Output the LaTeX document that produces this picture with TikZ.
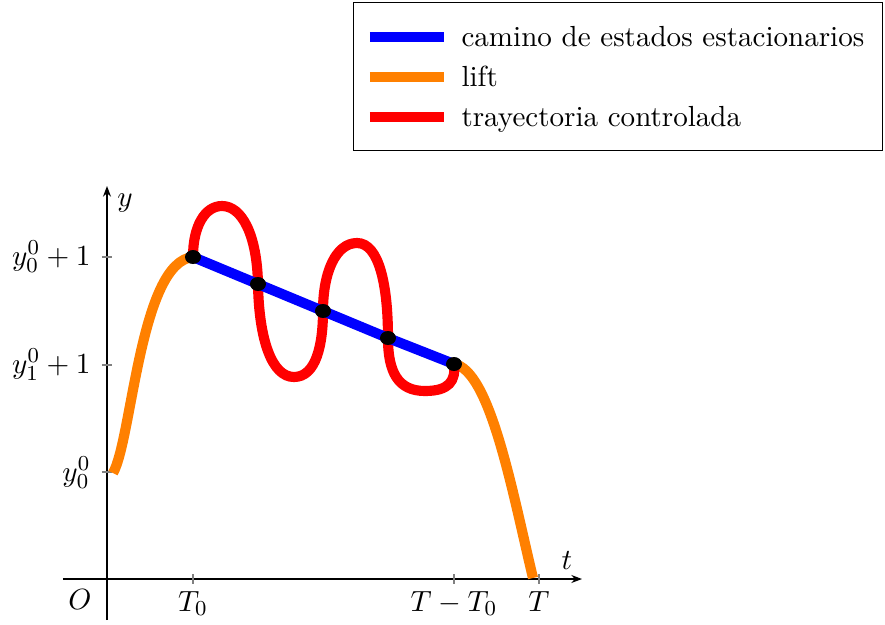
\documentclass[tikz,border=0pt]{standalone}
\usetikzlibrary{arrows.meta}
\begin{document}
\begin{tikzpicture}[x=0.375pt,y=-0.375pt,
  axisline/.style={black,line width=0.45pt,-{Stealth[length=4pt,width=3pt]}},
  tickmark/.style={gray,line width=0.4pt},
  bluepath/.style={blue,line width=3.8pt},
  orangepath/.style={orange,line width=3.8pt},
  redpath/.style={red,line width=3.8pt},
  dotmark/.style={fill=black,draw=none},
  lbl/.style={inner sep=0pt,font=\fontsize{10.9pt}{13pt}\selectfont}]
\useasboundingbox (0,0) rectangle (885,624);
% axes
\coordinate (xs) at (63,579); \coordinate (xe) at (582,579);
\coordinate (ys) at (107,620); \coordinate (ye) at (107,186);
\draw[axisline] (xs) -- (xe);
\draw[axisline] (ys) -- (ye);
% ticks
\foreach \n/\yy in {a/257,b/365,c/472}{
  \coordinate (tl\n) at (102,\yy); \coordinate (tr\n) at (112,\yy);
  \draw[tickmark] (tl\n) -- (tr\n);}
\foreach \n/\xx in {a/193,b/454,c/539}{
  \coordinate (tt\n) at (\xx,574); \coordinate (tb\n) at (\xx,584);
  \draw[tickmark] (tt\n) -- (tb\n);}
% labels
\node[lbl,anchor=east] (la) at (91,257) {$y^0_0+1$};
\node[lbl,anchor=east] (lb) at (91,365) {$y^0_1+1$};
\node[lbl,anchor=east] (lc) at (91,473) {$y^0_0$};
\node[lbl,anchor=north] (lt0) at (193,591) {$T_0$};
\node[lbl,anchor=north] (ltt) at (454,591) {$T-T_0$};
\node[lbl,anchor=north] (lT) at (539,591) {$T$};
\node[lbl] (lO) at (80,600) {$O$};
\node[lbl] (lt) at (567,561) {$t$};
\node[lbl] (ly) at (125,203) {$y$};
% points
\coordinate (p0) at (193,257);
\coordinate (p1) at (258,284);
\coordinate (p2) at (323,311);
\coordinate (p3) at (388,338);
\coordinate (p4) at (454,364);
% orange lifts
\draw[orangepath] (113,473) .. controls (132,440) and (140,262) .. (p0);
\draw[orangepath] (p4) .. controls (490,370) and (512,490) .. (533,578);
% red trajectory
\draw[redpath] (p0) .. controls (193,226) and (205,206) .. (222,206)
  .. controls (242,206) and (257,235) .. (p1)
  .. controls (259,340) and (272,377) .. (294,377)
  .. controls (316,377) and (323,345) .. (p2)
  .. controls (323,272) and (336,243) .. (357,243)
  .. controls (379,243) and (388,285) .. (p3)
  .. controls (388,372) and (398,391) .. (425,391)
  .. controls (449,391) and (456,381) .. (p4);
% blue path
\draw[bluepath] (p0) -- (p1) -- (p2) -- (p3) -- (p4);
\foreach \i in {0,...,4}{\fill[dotmark] (p\i) ellipse [x radius=8, y radius=7];}
% legend
\node[draw=black,line width=0.5pt,minimum width=529*0.375pt,minimum height=148*0.375pt,anchor=north west,inner sep=0pt] (leg) at (353,2) {};
\coordinate (l1a) at (370,37); \coordinate (l1b) at (444,37);
\coordinate (l2a) at (370,77); \coordinate (l2b) at (444,77);
\coordinate (l3a) at (370,117); \coordinate (l3b) at (444,117);
\draw[bluepath] (l1a) -- (l1b);
\draw[orangepath] (l2a) -- (l2b);
\draw[redpath] (l3a) -- (l3b);
\node[lbl,anchor=base west] (t1) at (461,46) {camino de estados estacionarios};
\node[lbl,anchor=base west] (t2) at (461,86) {lift};
\node[lbl,anchor=base west] (t3) at (461,126) {trayectoria controlada};
\end{tikzpicture}
\end{document}
